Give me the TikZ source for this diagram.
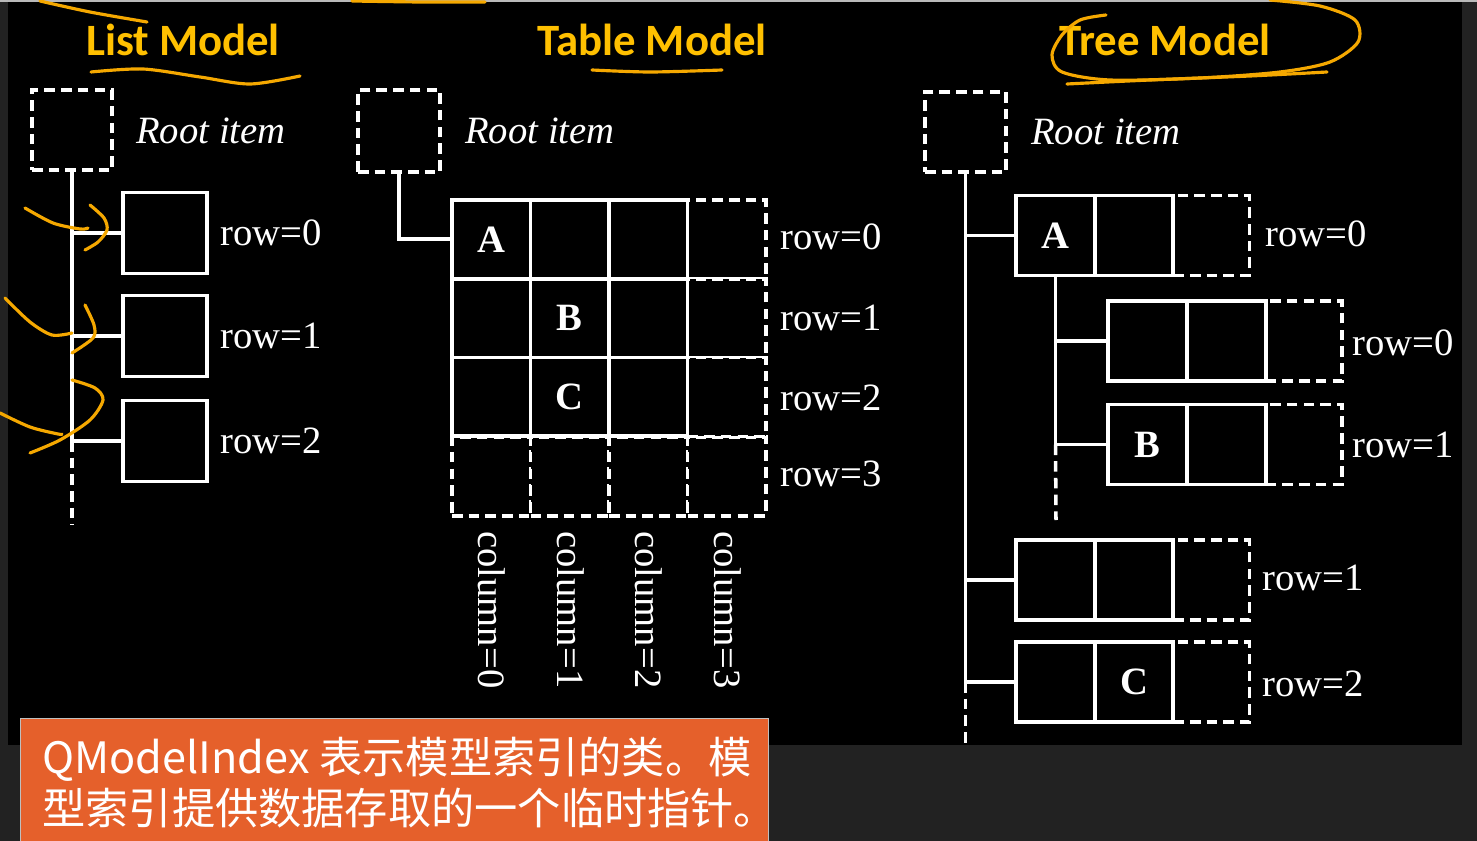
\documentclass[tikz,border=0pt]{standalone}
\usepackage{fontspec}
\setmainfont{Liberation Serif}
\newfontfamily\titlefont{Carlito}
\newfontfamily\cjkfont{Noto Sans CJK SC}
\definecolor{bggray}{HTML}{222222}
\definecolor{ttlorange}{HTML}{FFC000}
\definecolor{handorange}{HTML}{F5A800}
\definecolor{boxorange}{HTML}{E5602B}
\begin{document}
\begin{tikzpicture}[x=0.02cm,y=-0.02cm,
  ln/.style={draw=white, line width=2.2pt},
  dln/.style={draw=white, line width=2pt, dash pattern=on 6pt off 3.5pt},
  cell/.style={draw=white, line width=2.2pt, fill=black, inner sep=0pt, minimum width=1.57cm, minimum height=1.575cm},
  dcell/.style={cell, line width=2pt, dash pattern=on 6pt off 3.5pt},
  tcell/.style={cell, minimum height=1.6cm},
  tdcell/.style={dcell, minimum width=1.52cm, minimum height=1.6cm},
  rootbox/.style={dcell, minimum width=1.6cm, minimum height=1.6cm},
  lbox/.style={cell, minimum width=1.68cm, minimum height=1.62cm},
  lbl/.style={text=white, font=\fontsize{22}{26}\selectfont, inner sep=0pt, anchor=west},
  rootlbl/.style={lbl, font=\itshape\fontsize{22}{26}\selectfont},
  letter/.style={text=white, font=\bfseries\fontsize{22}{26}\selectfont, inner sep=0pt},
  ttl/.style={text=ttlorange, font=\titlefont\bfseries\fontsize{25.5}{30}\selectfont, anchor=base, inner sep=0pt},
  captxt/.style={text=white, font=\cjkfont\fontsize{24.6}{29}\selectfont, anchor=base west, inner sep=0pt},
  hand/.style={draw=handorange, line width=1.8pt, line cap=round, line join=round}
]
\useasboundingbox (0,0) rectangle (1477,841);
% background
\fill[bggray] (0,0) rectangle (1477,841);
\fill[black] (8,2) rectangle (1462,745);
\fill[gray!55] (0,0) rectangle (1477,2);

% titles
\node[ttl] (tlist) at (183,56) {List Model};
\node[ttl] (ttable) at (652,56) {Table Model};
\node[ttl] (ttree) at (1165,56) {Tree Model};

% ---------------- List model ----------------
\node[rootbox] (lroot) at (72,130) {};
\node[rootlbl] (lrootl) at (136,131) {Root item};
\node[lbox] (l0) at (165,233) {};
\node[lbox] (l1) at (165,336) {};
\node[lbox] (l2) at (165,441) {};
\coordinate (lend) at (72,525);
\draw[ln] (lroot.south) -- (lroot.south |- l2.west);
\draw[dln] (lroot.south |- l2.west) -- (lend);
\draw[ln] (lroot.south |- l0.west) -- (l0.west);
\draw[ln] (lroot.south |- l1.west) -- (l1.west);
\draw[ln] (lroot.south |- l2.west) -- (l2.west);
\node[lbl] (l0l) at (220,233) {row=0};
\node[lbl] (l1l) at (220,336) {row=1};
\node[lbl] (l2l) at (220,441) {row=2};

% ---------------- Table model ----------------
\node[rootbox, minimum width=1.64cm, minimum height=1.64cm] (troot) at (399,131) {};
\node[rootlbl] (trootl) at (465,131) {Root item};
\foreach \c in {0,1,2,3} \node[dcell] (t3\c) at ({491.25+78.5*\c},476.6) {};
\foreach \r in {0,1,2} \node[dcell] (t\r3) at (726.75,{239.4+78.75*\r}) {};
\foreach \r in {0,1,2} \foreach \c in {0,1,2} \node[cell] (t\r\c) at ({491.25+78.5*\c},{239.4+78.75*\r}) {};
\draw[ln] (troot.south) |- (t00.west);
\node[letter] (tA) at (t00) {A};
\node[letter] (tB) at (t11) {B};
\node[letter] (tC) at (t21) {C};
\node[lbl] (tr0) at (780,237) {row=0};
\node[lbl] (tr1) at (780,318) {row=1};
\node[lbl] (tr2) at (780,398) {row=2};
\node[lbl] (tr3) at (780,474) {row=3};
\foreach \c/\xx in {0/492,1/571,2/649,3/728}
  \node[lbl, rotate=-90] (tc\c) at (\xx,531) {column=\c};

% ---------------- Tree model ----------------
\node[rootbox, minimum width=1.62cm] (rroot) at (965.5,132) {};
\node[rootlbl] (rrootl) at (1031,132) {Root item};
% row 0
\node[tdcell] (r0c) at (1211.25,235.5) {};
\node[tcell] (r0a) at (1055.5,235.5) {};
\node[tcell] (r0b) at (1134,235.5) {};
% children of A
\node[tdcell] (c0c) at (1303.75,341) {};
\node[tcell] (c0a) at (1147.5,341) {};
\node[tcell] (c0b) at (1226.5,341) {};
\node[tdcell] (c1c) at (1303.75,444.5) {};
\node[tcell] (c1a) at (1147.5,444.5) {};
\node[tcell] (c1b) at (1226.5,444.5) {};
% row 1, row 2
\node[tdcell] (r1c) at (1211.25,580) {};
\node[tcell] (r1a) at (1055.5,580) {};
\node[tcell] (r1b) at (1134,580) {};
\node[tdcell] (r2c) at (1211.25,682) {};
\node[tcell] (r2a) at (1055.5,682) {};
\node[tcell] (r2b) at (1134,682) {};
\node[letter] (rA) at (r0a) {A};
\node[letter] (rB) at (c1a) {B};
\node[letter] (rC) at (r2b) {C};
% connectors
\coordinate (rend) at (965.5,745);
\coordinate (aend) at (1056,520);
\draw[ln] (rroot.south) -- (rroot.south |- r2a.west);
\draw[dln] (rroot.south |- r2a.west) -- (rend);
\draw[ln] (rroot.south |- r0a.west) -- (r0a.west);
\draw[ln] (rroot.south |- r1a.west) -- (r1a.west);
\draw[ln] (rroot.south |- r2a.west) -- (r2a.west);
\draw[ln] (r0a.south) -- (r0a.south |- c1a.west);
\draw[dln] (r0a.south |- c1a.west) -- (aend);
\draw[ln] (r0a.south |- c0a.west) -- (c0a.west);
\draw[ln] (r0a.south |- c1a.west) -- (c1a.west);
\node[lbl] (rr0) at (1265,234) {row=0};
\node[lbl] (rc0) at (1352,343) {row=0};
\node[lbl] (rc1) at (1352,445) {row=1};
\node[lbl] (rr1) at (1262,578) {row=1};
\node[lbl] (rr2) at (1262,684) {row=2};

% ---------------- caption box ----------------
\node[fill=boxorange, draw=gray!50, line width=0.6pt, anchor=north west, minimum width=14.96cm, minimum height=2.8cm, inner sep=0pt] (capbox) at (20,718) {};
\node[captxt] (cap1) at (42,773) {QModelIndex 表示模型索引的类。模};
\node[captxt] (cap2) at (42,824) {型索引提供数据存取的一个临时指针。};

% ---------------- hand annotations ----------------
\draw[hand] plot[smooth] coordinates {(40,1) (90,12) (147,22)};
\draw[hand] plot[smooth] coordinates {(352,1) (420,2) (485,2)};
\draw[hand] plot[smooth] coordinates {(91,72) (143,69) (200,77) (250,84) (300,76)};
\draw[hand] plot[smooth] coordinates {(592,70) (650,72) (722,70)};
\draw[hand] plot[smooth] coordinates {(1106,15) (1080,20) (1062,35) (1052,55) (1062,72) (1110,80) (1200,78) (1280,72) (1330,62) (1358,42) (1355,20) (1320,6) (1270,0)};
\draw[hand] plot[smooth] coordinates {(1067,84) (1150,80) (1250,76) (1327,72)};
\draw[hand] plot[smooth] coordinates {(25,208) (53,223) (80,229) (88,228)};
\draw[hand] plot[smooth] coordinates {(90,205) (104,218) (107,230) (98,242) (85,250)};
\draw[hand] plot[smooth] coordinates {(5,298) (30,322) (52,335) (72,333)};
\draw[hand] plot[smooth] coordinates {(85,305) (94,325) (93,338) (72,353)};
\draw[hand] plot[smooth] coordinates {(0,413) (30,427) (58,434) (62,434)};
\draw[hand] plot[smooth] coordinates {(72,380) (95,388) (103,400) (90,420) (60,440) (30,453)};
\end{tikzpicture}
\end{document}
